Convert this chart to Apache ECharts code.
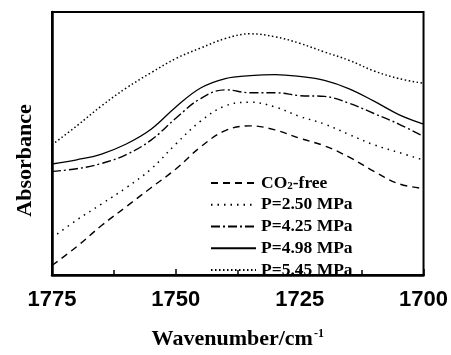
<!DOCTYPE html>
<html>
<head>
<meta charset="utf-8">
<script src="https://cdn.jsdelivr.net/npm/echarts@6/dist/echarts.min.js"></script>
<style>
  html, body { margin: 0; padding: 0; background: #fff; overflow: hidden; }
  #chart { width: 451px; height: 355px; }
</style>
</head>
<body>
<div id="chart"></div>
<script>
// Wavenumber samples (cm^-1), every 5 cm^-1 from 1775 down to 1700
const wavenumbers = [1775, 1770, 1765, 1760, 1755, 1750, 1745, 1740, 1735, 1730, 1725, 1720, 1715, 1710, 1705, 1700];

// Absorbance (arbitrary units, offset spectra)
const co2Free = [3.6, 10.8, 18.8, 26.0, 33.2, 40.3, 48.7, 54.9, 56.7, 55.2, 52.0, 49.1, 44.8, 39.4, 34.7, 32.9];
const p250    = [14.1, 20.9, 27.0, 33.2, 40.3, 49.8, 58.5, 64.3, 65.7, 63.9, 60.3, 57.4, 53.4, 49.5, 46.6, 43.7];
const p425    = [39.4, 40.4, 42.4, 45.8, 51.3, 59.6, 67.1, 70.4, 69.3, 69.3, 68.2, 67.9, 65.3, 61.4, 57.4, 52.7];
const p498    = [42.2, 43.8, 46.0, 49.8, 55.4, 63.9, 71.1, 74.7, 75.8, 76.2, 75.5, 74.0, 70.8, 66.1, 61.0, 57.4];
const p545    = [49.5, 56.7, 64.3, 71.1, 76.9, 82.3, 86.3, 89.9, 91.7, 90.6, 88.1, 84.8, 81.6, 77.6, 74.7, 72.9];

const seriesNames = ['CO2-free', 'P=2.50 MPa', 'P=4.25 MPa', 'P=4.98 MPa', 'P=5.45 MPa'];
const xTicks = [1775, 1750, 1725, 1700];

const serif = '"Liberation Serif", "Times New Roman", serif';
const sans = '"Liberation Sans", Arial, sans-serif';

function pairs(ys) { return wavenumbers.map((x, i) => [x, ys[i]]); }

function lineSeries(name, ys, type, width) {
  return {
    name: name,
    type: 'line',
    data: pairs(ys),
    smooth: 0.4,
    symbol: 'none',
    lineStyle: { color: '#000', width: width, type: type },
    itemStyle: { color: '#000' },
    emphasis: { disabled: true }
  };
}

const chart = echarts.init(document.getElementById('chart'), null, { renderer: 'canvas', width: 451, height: 355 });

chart.setOption({
  animation: false,
  backgroundColor: '#fff',
  grid: {
    left: 52, right: 26, top: 12, bottom: 66, containLabel: false,
    show: true, borderColor: '#000', borderWidth: 2, backgroundColor: 'transparent'
  },
  legend: {
    orient: 'vertical',
    left: 205,
    top: 169,
    itemWidth: 45,
    itemHeight: 18,
    itemGap: 3.75,
    data: seriesNames,
    itemStyle: { opacity: 0 },
    formatter: function (n) { return n === 'CO2-free' ? '{n|CO}{s|2}{n|-free}' : '{n|' + n + '}'; },
    textStyle: {
      color: '#000',
      rich: {
        n: { fontFamily: serif, fontWeight: 'bold', fontSize: 17.5, color: '#000', lineHeight: 18 },
        s: { fontFamily: serif, fontWeight: 'bold', fontSize: 11, color: '#000', lineHeight: 10, verticalAlign: 'bottom' }
      }
    }
  },
  xAxis: {
    type: 'value',
    inverse: true,
    min: 1700,
    max: 1775,
    interval: 25,
    position: 'bottom',
    name: '{n|Wavenumber/cm}{t|-1}',
    nameLocation: 'middle',
    nameGap: 53,
    nameTextStyle: {
      rich: {
        n: { fontFamily: serif, fontWeight: 'bold', fontSize: 22, color: '#000', lineHeight: 22 },
        t: { fontFamily: serif, fontWeight: 'bold', fontSize: 12, color: '#000', lineHeight: 10, verticalAlign: 'top', padding: [0, 0, 0, 1] }
      }
    },
    axisLine: { show: true, lineStyle: { color: '#000', width: 2.5 } },
    axisTick: { show: true, inside: true, length: 6, lineStyle: { color: '#000', width: 1.5 } },
    minorTick: { show: true, splitNumber: 2, length: 5, lineStyle: { color: '#000', width: 1.5 } },
    axisLabel: {
      color: '#000', fontFamily: sans, fontWeight: 'bold', fontSize: 22, margin: 14,
      formatter: function (v) { return xTicks.indexOf(v) >= 0 ? String(v) : ''; }
    },
    splitLine: { show: false }
  },
  yAxis: {
    type: 'value',
    min: 0,
    max: 100,
    position: 'left',
    name: 'Absorbance',
    nameLocation: 'middle',
    nameGap: 16,
    nameTextStyle: { fontFamily: serif, fontWeight: 'bold', fontSize: 22, color: '#000', padding: [0, 34, 0, 0] },
    axisLine: { show: true, lineStyle: { color: '#000', width: 2.5 } },
    axisTick: { show: false },
    axisLabel: { show: false },
    splitLine: { show: false }
  },
  series: [
    lineSeries('CO2-free', co2Free, [7, 5], 1.4),
    lineSeries('P=2.50 MPa', p250, [1.5, 5], 1.5),
    lineSeries('P=4.25 MPa', p425, [9, 3, 2, 3], 1.4),
    lineSeries('P=4.98 MPa', p498, 'solid', 1.3),
    lineSeries('P=5.45 MPa', p545, [1.5, 2.5], 1.5)
  ]
});
</script>
</body>
</html>
